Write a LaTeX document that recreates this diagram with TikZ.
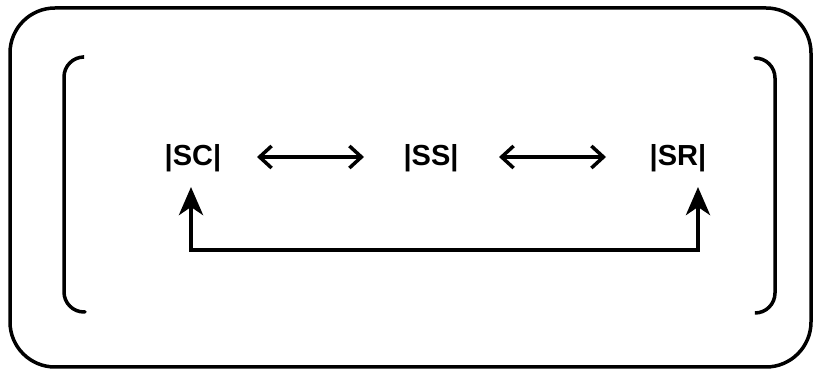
\documentclass[tikz,border=0pt]{standalone}
\usepackage{fontspec}
\setmainfont{Liberation Sans}
\usetikzlibrary{arrows.meta}
\begin{document}
\begin{tikzpicture}[x=1pt,y=-1pt,
  frame/.style={line width=3.5pt, rounded corners=45pt},
  bracket/.style={line width=3.5pt, rounded corners=20pt, line cap=round},
  label/.style={font=\fontsize{29}{31}\selectfont\bfseries, inner sep=0pt},
  dbl/.style={line width=3.5pt, {Straight Barb[length=12pt,width=22pt,line width=3.5pt]}-{Straight Barb[length=12pt,width=22pt,line width=3.5pt]}},
  uparrow/.style={line width=4.5pt, -{Stealth[length=28pt,width=24pt,inset=8pt]}}]
\useasboundingbox (0,0) rectangle (815,371);
\draw[frame] (10,8) rectangle (811,367);
\draw[bracket] (83,57) -- (64,57) -- (64,312) -- (85,312);
\draw[bracket] (755,58) -- (775,58) -- (775,313) -- (757,313);
\node[label] (sc) at (193,158) {|SC|};
\node[label] (ss) at (431,158) {|SS|};
\node[label] (sr) at (678,158) {|SR|};
\coordinate (a1) at (257,157);
\coordinate (a2) at (364,157);
\coordinate (b1) at (499,157);
\coordinate (b2) at (606,157);
\draw[dbl] (a1) -- (a2);
\draw[dbl] (b1) -- (b2);
\coordinate (bl) at (191,250);
\coordinate (br) at (698,250);
\coordinate (tl) at (191,187);
\coordinate (tr) at (698,187);
\draw[line width=4.5pt, line cap=rect] (bl) -- (br);
\draw[uparrow] (bl) -- (tl);
\draw[uparrow] (br) -- (tr);
\end{tikzpicture}
\end{document}
